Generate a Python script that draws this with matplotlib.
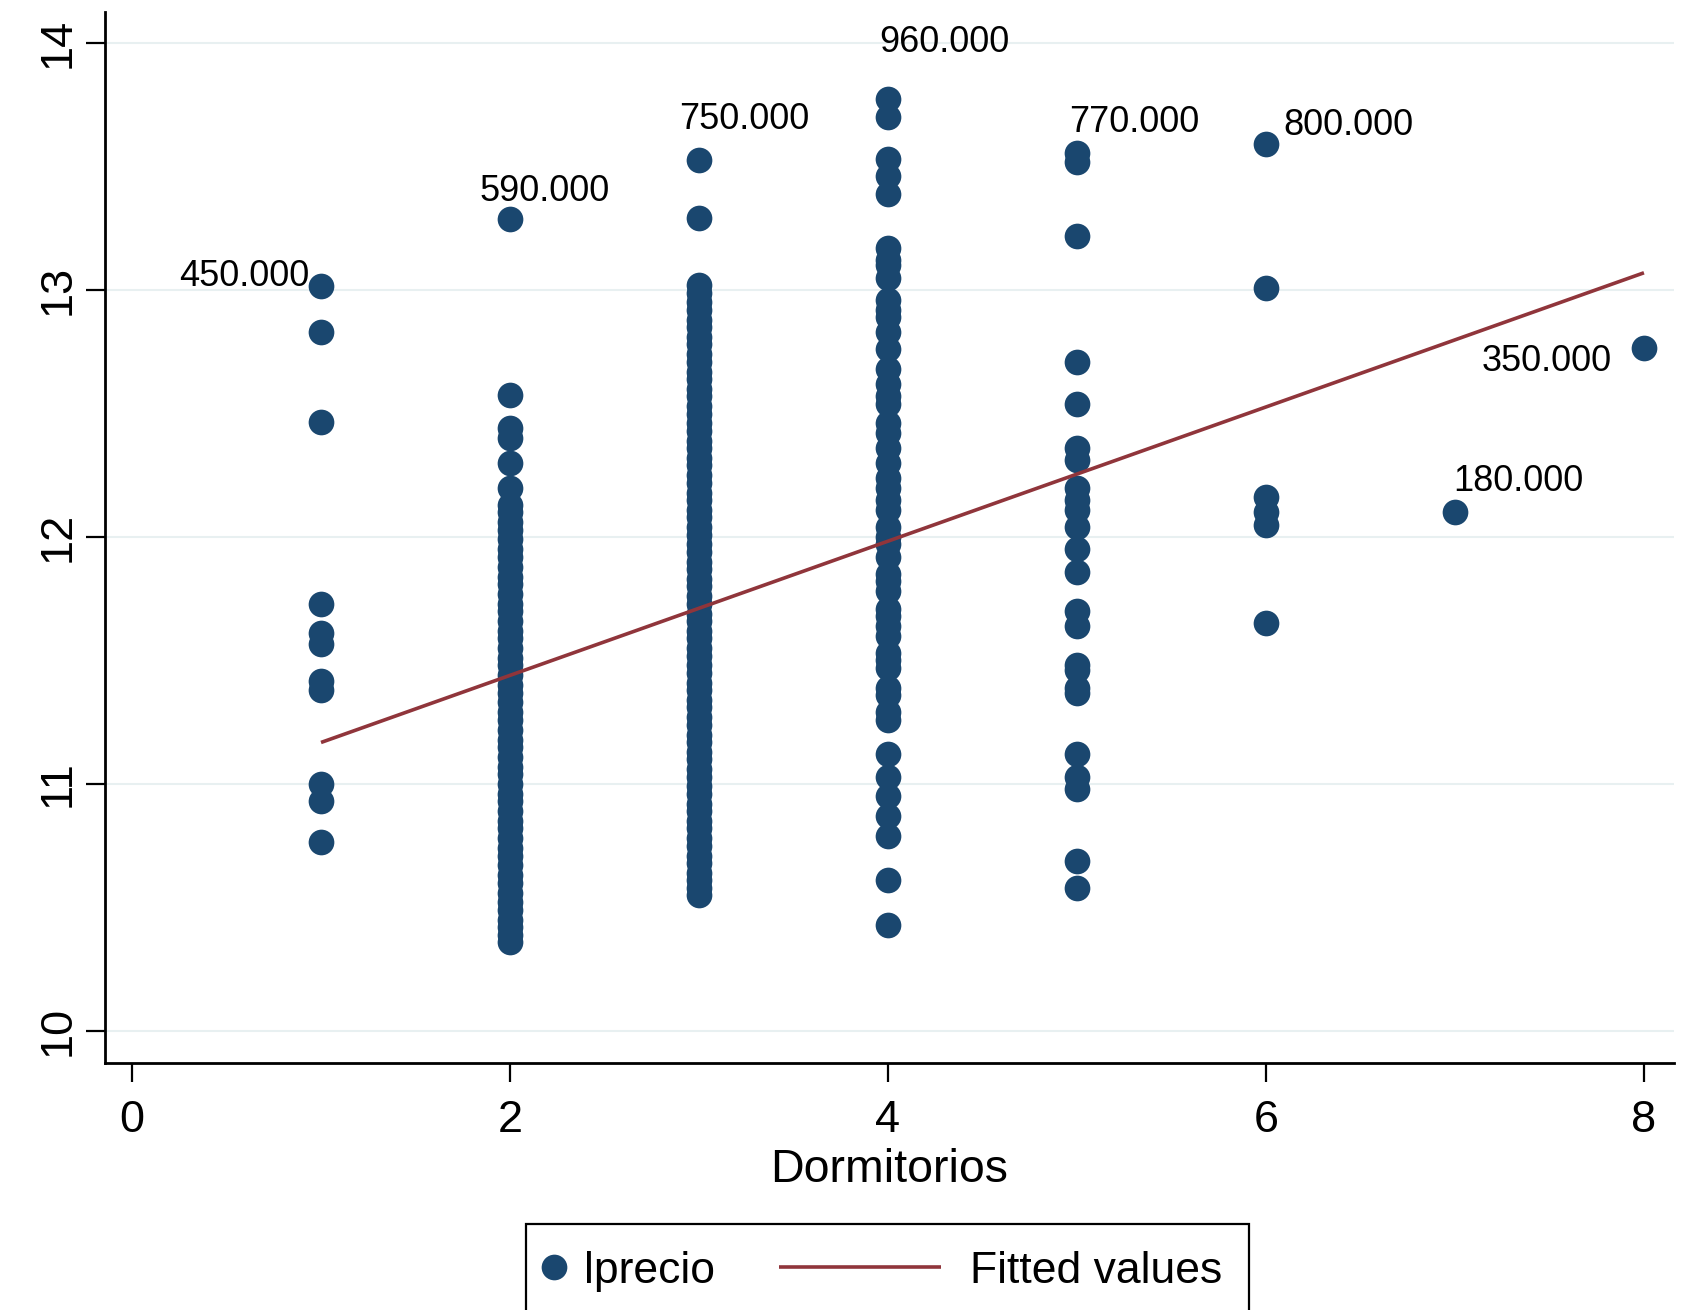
import numpy as np
import matplotlib
matplotlib.use("Agg")
import matplotlib.pyplot as plt
from matplotlib.legend_handler import HandlerLine2D

plt.rcParams['font.family'] = ['Liberation Sans', 'DejaVu Sans']

# ---------------- data (log price by number of bedrooms) ----------------
lprecio_1 = [13.017, 12.83, 12.466, 11.73, 11.613, 11.566, 11.417, 11.379, 11.00, 10.932, 10.764]
lprecio_2 = [13.288, 12.576, 12.44, 12.40, 12.30, 12.20, 12.13, 12.10, 12.06, 12.03, 11.99, 11.95,
             11.92, 11.88, 11.84, 11.81, 11.77, 11.73, 11.70, 11.66, 11.62, 11.59, 11.55, 11.51,
             11.48, 11.44, 11.40, 11.37, 11.33, 11.29, 11.26, 11.22, 11.18, 11.15, 11.11, 11.07,
             11.04, 11.00, 10.96, 10.93, 10.89, 10.85, 10.82, 10.78, 10.74, 10.71, 10.67, 10.63,
             10.60, 10.56, 10.52, 10.49, 10.45, 10.42, 10.39, 10.36]
lprecio_3 = [13.528, 13.29, 13.02, 12.99, 12.95, 12.92, 12.88, 12.85, 12.81, 12.78, 12.74, 12.71,
             12.67, 12.64, 12.60, 12.57, 12.53, 12.50, 12.46, 12.43, 12.39, 12.36, 12.32, 12.29,
             12.25, 12.22, 12.18, 12.15, 12.11, 12.08, 12.04, 12.01, 11.97, 11.94, 11.90, 11.87,
             11.83, 11.80, 11.76, 11.73, 11.69, 11.66, 11.62, 11.59, 11.55, 11.52, 11.48, 11.45,
             11.41, 11.38, 11.34, 11.31, 11.27, 11.24, 11.20, 11.17, 11.13, 11.10, 11.06, 11.03,
             10.99, 10.96, 10.92, 10.89, 10.85, 10.82, 10.78, 10.75, 10.71, 10.68, 10.64, 10.61,
             10.58, 10.55]
lprecio_4 = [13.775, 13.70, 13.53, 13.46, 13.39, 13.17, 13.12, 13.10, 13.05, 12.96, 12.92, 12.89,
             12.83, 12.76, 12.68, 12.62, 12.57, 12.54, 12.46, 12.42, 12.36, 12.30, 12.24, 12.20,
             12.15, 12.11, 12.04, 12.00, 11.97, 11.92, 11.85, 11.82, 11.78, 11.71, 11.68, 11.64,
             11.60, 11.53, 11.50, 11.47, 11.39, 11.36, 11.29, 11.26, 11.12, 11.03, 10.95, 10.87,
             10.79, 10.61, 10.43]
lprecio_5 = [13.554, 13.52, 13.22, 12.71, 12.54, 12.36, 12.31, 12.20, 12.15, 12.11, 12.04, 11.95,
             11.86, 11.70, 11.64, 11.48, 11.46, 11.39, 11.37, 11.12, 11.03, 10.98, 10.69, 10.58]
lprecio_6 = [13.592, 13.01, 12.16, 12.10, 12.05, 11.65]
lprecio_7 = [12.101]
lprecio_8 = [12.766]
columns = [lprecio_1, lprecio_2, lprecio_3, lprecio_4, lprecio_5, lprecio_6, lprecio_7, lprecio_8]
dormitorios = [1, 2, 3, 4, 5, 6, 7, 8]

# fitted regression line (end points)
fit_x = [1, 8]
fit_y = [11.168, 13.07]

# labelled points (top price per bedroom count)
label_x = [1, 2, 3, 4, 5, 6, 7, 8]
label_price = [450000, 590000, 750000, 960000, 770000, 800000, 180000, 350000]
label_text = ['450.000', '590.000', '750.000', '960.000', '770.000', '800.000', '180.000', '350.000']

x_ticks = [0, 2, 4, 6, 8]
y_ticks = [10, 11, 12, 13, 14]

# ---------------- styling ----------------
NAVY = '#1a476f'
MAROON = '#90353b'
label_style = {  # (ha, dx px, dy px) relative to the point
    '450.000': ('right', -12, 0),
    '590.000': ('left', -31, 18),
    '750.000': ('left', -20, 31),
    '960.000': ('left', -9, 47),
    '770.000': ('left', -8, 21),
    '800.000': ('left', 17, 9),
    '180.000': ('left', -2, 21),
    '350.000': ('right', -32, -23),
}

W, H = 1699, 1310
fig = plt.figure(figsize=(W / 100, H / 100), dpi=100)
ax = fig.add_axes([105 / W, 1 - 1063 / H, (1674 - 105) / W, (1063 - 12) / H])

xs = np.concatenate([np.full(len(c), d) for c, d in zip(columns, dormitorios)])
ys = np.concatenate([np.asarray(c, float) for c in columns])

pts, = ax.plot(xs, ys, linestyle='none', marker='o', ms=18.5, color=NAVY, mec=NAVY, mew=0, zorder=3)
fit, = ax.plot(fit_x, fit_y, color=MAROON, lw=2.6, zorder=4, solid_capstyle='butt')

for lx, lp, lt in zip(label_x, label_price, label_text):
    ha, dx, dy = label_style[lt]
    ax.annotate(lt, xy=(lx, np.log(lp)), xytext=(dx, dy), textcoords='offset pixels',
                ha=ha, va='baseline', fontsize=26, color='black', zorder=5)

ax.set_xlim(-0.143, 8.159)
ax.set_ylim(9.87, 14.126)
ax.set_xticks(x_ticks)
ax.set_yticks(y_ticks)
ax.set_xticklabels([str(v) for v in x_ticks])
ax.set_yticklabels([str(v) for v in y_ticks], rotation=90, va='center')

for s in ['top', 'right']:
    ax.spines[s].set_visible(False)
for s in ['left', 'bottom']:
    ax.spines[s].set_linewidth(2.0)
ax.tick_params(axis='both', direction='out', length=14, width=1.6, labelsize=32.5, colors='black')
ax.tick_params(axis='x', pad=13)
ax.tick_params(axis='y', pad=5)

ax.yaxis.grid(True, color='#e8f0f1', linewidth=1.5)
ax.set_axisbelow(True)

ax.set_xlabel('Dormitorios', fontsize=33.5, labelpad=5)


class ExtendedLine(HandlerLine2D):
    def __init__(self, extra, **kw):
        super().__init__(**kw)
        self.extra = extra

    def create_artists(self, legend, orig_handle, xdescent, ydescent, width, height, fontsize, trans):
        ext = self.extra * fontsize
        return super().create_artists(legend, orig_handle, xdescent + ext, ydescent,
                                      width + ext, height, fontsize, trans)


leg = fig.legend([pts, fit], ['lprecio', 'Fitted values'], loc='upper center',
                 bbox_to_anchor=(887.5 / W, 1 - 1224 / H), ncol=2, fontsize=32,
                 handlelength=0.05, handletextpad=0.65, columnspacing=5.05, borderpad=0.6,
                 borderaxespad=0, frameon=True, fancybox=False, edgecolor='black', framealpha=1,
                 handler_map={fit: ExtendedLine(3.6)})
leg.get_frame().set_linewidth(1.6)

fig.savefig('out.png', dpi=100, facecolor='white')
